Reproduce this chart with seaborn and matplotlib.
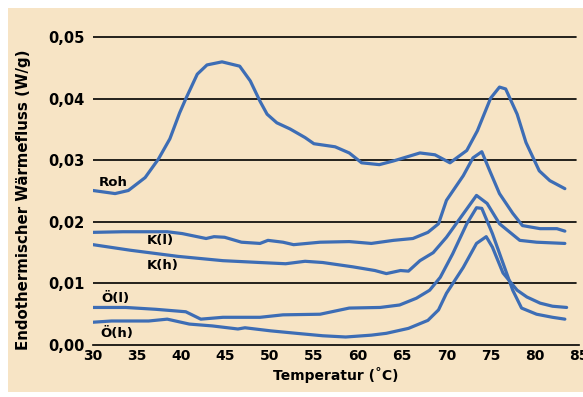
import numpy as np
import pandas as pd
import matplotlib.pyplot as plt
import matplotlib.patches as patches
import seaborn as sns

roh_t = [30, 32.5, 34, 35.9, 37.4, 38.7, 39.8, 40.5, 41.8, 42.9, 44.6, 46.6, 47.8, 48.9, 49.7,
         50.8, 52.3, 54, 55, 57.4, 59, 60.4, 62.4, 64, 67, 68.7, 70.4, 72.3, 73.5, 75, 76, 76.7,
         78, 79, 80.5, 81.7, 83.4]
roh_w = [0.0251, 0.0246, 0.0251, 0.0272, 0.0302, 0.0335, 0.0377, 0.0400, 0.0440, 0.0455, 0.0460,
         0.0453, 0.0429, 0.0396, 0.0375, 0.0361, 0.0351, 0.0337, 0.0327, 0.0322, 0.0312, 0.0296,
         0.0293, 0.0299, 0.0312, 0.0309, 0.0296, 0.0316, 0.0348, 0.0401, 0.0419, 0.0416, 0.0375,
         0.0329, 0.0283, 0.0267, 0.0254]

kl_t = [30, 33.4, 38.4, 40.1, 42.8, 43.7, 44.9, 46.8, 48.9, 49.8, 51.5, 52.7, 55.7, 59, 61.5, 64,
        66.2, 67.9, 69.1, 70, 71.9, 73, 74, 74.9, 76, 77.5, 78.6, 80.6, 82.5, 83.4]
kl_w = [0.0183, 0.0184, 0.0184, 0.0181, 0.0173, 0.0176, 0.0175, 0.0167, 0.0165, 0.0170, 0.0167,
        0.0163, 0.0167, 0.0168, 0.0165, 0.0170, 0.0173, 0.0183, 0.0197, 0.0235, 0.0275, 0.0304,
        0.0314, 0.0283, 0.0246, 0.0214, 0.0194, 0.0189, 0.0189, 0.0185]

kh_t = [30, 34.2, 39.6, 44.7, 48.9, 51.8, 54, 56, 59.4, 61.9, 63.2, 64.8, 65.7, 67, 68.5, 70,
        71.9, 73.4, 74.6, 76, 78.3, 80.2, 83.4]
kh_w = [0.0163, 0.0154, 0.0144, 0.0137, 0.0134, 0.0132, 0.0136, 0.0134, 0.0127, 0.0121, 0.0116,
        0.0121, 0.0120, 0.0137, 0.0150, 0.0175, 0.0213, 0.0243, 0.0230, 0.0197, 0.0170, 0.0167, 0.0165]

ol_t = [30, 33.7, 37.1, 40.5, 42.2, 44.7, 48.9, 51.5, 55.7, 59, 62.5, 64.7, 66.6, 68.1, 69.3,
        70.7, 72.3, 73.4, 74, 75.2, 76.4, 77.5, 78.5, 80.2, 82, 83.4]
ol_w = [0.0061, 0.0061, 0.0058, 0.0054, 0.0042, 0.0045, 0.0045, 0.0049, 0.0050, 0.0060, 0.0061,
        0.0065, 0.0076, 0.0089, 0.0110, 0.0148, 0.0197, 0.0223, 0.0222, 0.0181, 0.0133, 0.0089,
        0.0060, 0.0050, 0.0045, 0.0042]

oh_t = [30, 32.1, 36.3, 38.4, 40.9, 43.5, 46.4, 47.2, 50.1, 53, 56, 58.6, 61.5, 63.2, 65.7,
        67.9, 69.1, 70, 71.9, 73.4, 74.5, 75.2, 76.4, 78, 79.1, 80.6, 82, 83.6]
oh_w = [0.0037, 0.0039, 0.0039, 0.0042, 0.0034, 0.0031, 0.0026, 0.0028, 0.0023, 0.0019, 0.0015,
        0.0013, 0.0016, 0.0019, 0.0027, 0.0040, 0.0057, 0.0084, 0.0126, 0.0165, 0.0176, 0.0159,
        0.0117, 0.0089, 0.0078, 0.0068, 0.0063, 0.0061]

namen = ['Roh', 'K(l)', 'K(h)', 'Ö(l)', 'Ö(h)']
label_pos = [(32.3, 0.0264), (37.6, 0.0170), (37.9, 0.0129), (32.5, 0.0076), (32.7, 0.0019)]
yticks = [0.0, 0.01, 0.02, 0.03, 0.04, 0.05]
ytick_labels = ['0,00', '0,01', '0,02', '0,03', '0,04', '0,05']
xticks = list(range(30, 90, 5))

kurven = [(roh_t, roh_w), (kl_t, kl_w), (kh_t, kh_w), (ol_t, ol_w), (oh_t, oh_w)]
blau = '#3d6db5'

sns.set_style('white')
plt.rcParams['font.family'] = ['DejaVu Sans']
plt.rcParams['text.color'] = 'black'
plt.rcParams['xtick.color'] = 'black'
plt.rcParams['ytick.color'] = 'black'
plt.rcParams['axes.labelcolor'] = 'black'

fig = plt.figure(figsize=(5.83, 3.97), dpi=100)
fig.patch.set_facecolor('white')
# beiger Hintergrund
fig.patches.append(patches.Rectangle((8 / 583, 1 - 392 / 397), 1, 384 / 397,
                                     transform=fig.transFigure, facecolor='#f7e4c5',
                                     edgecolor='none', zorder=-5))
ax = fig.add_axes([93 / 583, 1 - 345 / 397, 486 / 583, 309 / 397])
ax.set_facecolor('none')
ax.set_zorder(1)

for y in yticks[1:]:
    ax.axhline(y, xmin=0, xmax=0.993, color='black', lw=1.2, zorder=1)

for (t, w), n in zip(kurven, namen):
    df = pd.DataFrame({'T': t, 'W': w})
    sns.lineplot(data=df, x='T', y='W', ax=ax, color=blau, lw=2.3, zorder=3)

for n, (x, y) in zip(namen, label_pos):
    ax.text(x, y, n, fontsize=9.5, fontweight='bold', ha='center', va='center', zorder=4)

ax.set_xlim(30, 85)
ax.set_ylim(0, 0.0502)
ax.set_xticks(xticks)
ax.set_xticklabels([str(x) for x in xticks], fontsize=10, fontweight='bold')
ax.set_yticks(yticks)
ax.set_yticklabels(ytick_labels, fontsize=10.5, fontweight='bold')
ax.tick_params(axis='x', direction='in', length=4, width=1, pad=3)
ax.tick_params(axis='y', length=0, pad=6)
for s in ['top', 'right', 'left']:
    ax.spines[s].set_visible(False)
ax.spines['bottom'].set_color('black')
ax.spines['bottom'].set_linewidth(1.2)

ax.set_xlabel('Temperatur (˚C)', fontsize=10, fontweight='bold', labelpad=3)
ax.set_ylabel('Endothermischer Wärmefluss (W/g)', fontsize=10.8, fontweight='bold')
ax.yaxis.set_label_coords(-0.128, 0.47)

plt.savefig('out.png', dpi=100)
